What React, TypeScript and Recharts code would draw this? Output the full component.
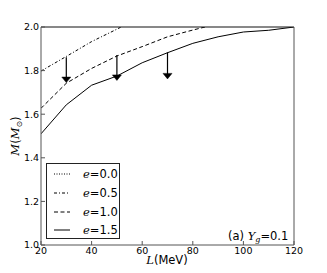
import React from 'react';
import { LineChart, Line, XAxis, YAxis, ReferenceLine, ReferenceDot, Legend } from 'recharts';

const xTicks = [20, 40, 60, 80, 100, 120];
const yTicks = [1.0, 1.2, 1.4, 1.6, 1.8, 2.0];

const seriesNames = ['e=0.0', 'e=0.5', 'e=1.0', 'e=1.5'];
const seriesDash = ['1 1.5', '3 2 1 2', '4 2.5', undefined];

const e00L = [20, 30, 40];
const e00M = [2.03, 2.1, 2.16];
const e05L = [20, 30, 40, 50, 60];
const e05M = [1.798, 1.865, 1.933, 1.99, 2.05];
const e10L = [20, 30, 40, 50, 60, 70, 80, 90];
const e10M = [1.627, 1.742, 1.81, 1.867, 1.91, 1.955, 1.986, 2.015];
const e15L = [20, 30, 40, 50, 60, 70, 80, 90, 100, 110, 120];
const e15M = [1.51, 1.643, 1.733, 1.775, 1.836, 1.882, 1.925, 1.955, 1.977, 1.985, 2.0];

const arrowL = [30, 50, 70];
const arrowTop = [1.861, 1.872, 1.884];
const arrowTip = [1.745, 1.755, 1.762];

const toPts = (ls: number[], ms: number[]) => ls.map((L, i) => ({ L, M: ms[i] }));
const seriesData = [toPts(e00L, e00M), toPts(e05L, e05M), toPts(e10L, e10M), toPts(e15L, e15M)];

const SANS = '"DejaVu Sans", sans-serif';
const SERIF = '"DejaVu Serif", serif';

const ArrowHead = (props: any) => {
  const { cx, cy } = props;
  return <polygon points={`${cx - 4.5},${cy - 5.5} ${cx + 4.5},${cy - 5.5} ${cx},${cy}`} fill="#000" stroke="#000" strokeWidth={0.5} />;
};

const LegendBox = () => (
  <div style={{ border: '1px solid #222', background: '#fff', width: 74, height: 76, boxSizing: 'border-box', paddingTop: 1 }}>
    {seriesNames.map((n, i) => (
      <div key={n} style={{ height: 18.7, display: 'flex', alignItems: 'center' }}>
        <svg width={36} height={10} style={{ display: 'block' }}>
          <line x1={7} x2={23} y1={5} y2={5} stroke="#000" strokeWidth={1} strokeDasharray={seriesDash[i]} />
        </svg>
        <span style={{ fontFamily: SANS, fontSize: 11.5, color: '#000', whiteSpace: 'nowrap' }}>
          <span style={{ fontFamily: SERIF, fontStyle: 'italic' }}>e</span>
          {n.slice(1)}
        </span>
      </div>
    ))}
  </div>
);

const YLabel = () => (
  <text x={16} y={136} transform="rotate(-90 16 136)" textAnchor="middle" dominantBaseline="middle" fontSize={11.5} fill="#000">
    <tspan fontFamily={SERIF} fontStyle="italic">M</tspan>
    <tspan fontFamily={SANS}>(</tspan>
    <tspan fontFamily={SERIF} fontStyle="italic">M</tspan>
    <tspan fontFamily={SANS} fontSize={8} dy={3}>⊙</tspan>
    <tspan fontFamily={SANS} dy={-3}>)</tspan>
  </text>
);

const XLabel = () => (
  <text x={167} y={264} textAnchor="middle" fontSize={11.5} fill="#000">
    <tspan fontFamily={SERIF} fontStyle="italic">L</tspan>
    <tspan fontFamily={SANS}>(MeV)</tspan>
  </text>
);

export default function App() {
  return (
    <div style={{ position: 'absolute', left: 0, top: 0, width: 327, height: 273, background: '#fff' }}>
      <LineChart width={327} height={273} margin={{ top: 26, right: 32, bottom: 8, left: 11 }}>
        <XAxis
          xAxisId={0}
          type="number"
          dataKey="L"
          domain={[20, 120]}
          ticks={xTicks}
          allowDataOverflow
          height={20}
          stroke="#555"
          tickSize={-4}
          tickMargin={6}
          tick={{ fontSize: 9.5, fill: '#000', fontFamily: SANS }}
          label={{ content: () => <XLabel /> }}
        />
        <XAxis
          xAxisId="top"
          orientation="top"
          type="number"
          dataKey="L"
          domain={[20, 120]}
          ticks={xTicks}
          height={1}
          stroke="#111"
          tickSize={-4}
          tickFormatter={() => ''}
        />
        <YAxis
          yAxisId={0}
          type="number"
          domain={[1, 2]}
          ticks={yTicks}
          allowDataOverflow
          width={30}
          stroke="#555"
          tickSize={-4}
          tickMargin={6}
          tickFormatter={(v: number) => v.toFixed(1)}
          tick={{ fontSize: 9.5, fill: '#000', fontFamily: SANS }}
          label={{ content: () => <YLabel /> }}
        />
        <YAxis
          yAxisId="right"
          orientation="right"
          type="number"
          domain={[1, 2]}
          ticks={yTicks}
          width={1}
          stroke="#555"
          tickSize={-4}
          tickFormatter={() => ''}
        />
        {seriesData.map((d, i) => (
          <Line
            key={seriesNames[i]}
            data={d}
            dataKey="M"
            name={seriesNames[i]}
            type="linear"
            stroke="#000"
            strokeWidth={1}
            strokeDasharray={seriesDash[i]}
            dot={false}
            activeDot={false}
            isAnimationActive={false}
          />
        ))}
        {arrowL.map((L, i) => (
          <ReferenceLine
            key={'s' + L}
            segment={[{ x: L, y: arrowTop[i] }, { x: L, y: arrowTip[i] + 0.01 }]}
            stroke="#000"
            strokeWidth={1.2}
          />
        ))}
        {arrowL.map((L, i) => (
          <ReferenceDot key={'h' + L} x={L} y={arrowTip[i]} shape={ArrowHead} />
        ))}
        <Legend
          layout="vertical"
          align="center"
          verticalAlign="middle"
          content={() => <LegendBox />}
          wrapperStyle={{ left: 46, top: 163, width: 74, height: 76 }}
        />
      </LineChart>
      <div style={{ position: 'absolute', left: 228, top: 229, fontFamily: SANS, fontSize: 11.5, color: '#000', whiteSpace: 'nowrap' }}>
        (a) <span style={{ fontFamily: SERIF, fontStyle: 'italic' }}>Y</span>
        <sub style={{ fontFamily: SERIF, fontStyle: 'italic', fontSize: 8, verticalAlign: '-2px' }}>g</sub>=0.1
      </div>
    </div>
  );
}
